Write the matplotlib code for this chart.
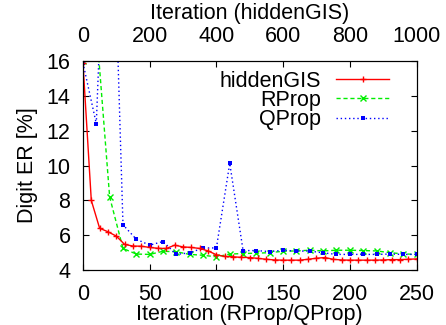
import matplotlib
matplotlib.use("Agg")
import matplotlib.pyplot as plt

plt.rcParams["font.family"] = ["Liberation Sans", "DejaVu Sans"]
plt.rcParams["font.size"] = 15.5

# hiddenGIS: top axis, every 25 iterations
gis_iter = list(range(0, 1001, 25))
gis_err = [15.9, 8.0, 6.4, 6.2, 5.95, 5.47, 5.38, 5.37, 5.3, 5.25, 5.24,
           5.43, 5.33, 5.3, 5.24, 5.1, 4.88, 4.78, 4.76, 4.73, 4.72,
           4.67, 4.62, 4.58, 4.57, 4.57, 4.57, 4.62, 4.68, 4.72, 4.62,
           4.58, 4.57, 4.57, 4.57, 4.57, 4.58, 4.6, 4.6, 4.62, 4.64]

# RProp / QProp: bottom axis, every 10 iterations
prop_iter = list(range(0, 251, 10))
rprop_err = [16.0, 18.0, 8.2, 5.24, 4.92, 4.9, 5.08, 5.05, 4.9, 4.85, 4.76,
             4.92, 4.95, 4.97, 5.0, 5.08, 5.1, 5.14, 5.1, 5.14, 5.14,
             5.12, 5.1, 5.0, 4.93, 4.9]
qprop_err = [15.9, 12.4, 32.0, 6.6, 5.77, 5.43, 5.64, 4.9, 4.99, 5.27, 5.27,
             10.13, 5.12, 5.12, 5.06, 5.14, 5.09, 5.09, 4.99, 4.9, 4.9,
             4.9, 4.9, 4.92, 4.9, 4.9]

fig = plt.figure(figsize=(4.46, 3.25), dpi=100)
ax = fig.add_axes([0.186, 0.169, 0.748, 0.643])
ax2 = ax.twiny()

l_r, = ax.plot(prop_iter, rprop_err, color="#00ee00", lw=1, ls=(0, (3, 2)),
               marker="x", ms=4, mew=1, label="RProp")
l_q, = ax.plot(prop_iter, qprop_err, color="#0000ff", lw=1, ls=(0, (1, 2)),
               marker="s", ms=3.5, mew=0, label="QProp")
l_h, = ax2.plot(gis_iter, gis_err, color="#ff0000", lw=1,
                marker="+", ms=5, mew=1, label="hiddenGIS")

ax.set_xlim(0, 250)
ax.set_ylim(4, 16)
ax2.set_xlim(0, 1000)
ax.set_xticks([0, 50, 100, 150, 200, 250])
ax.set_yticks([4, 6, 8, 10, 12, 14, 16])
ax2.set_xticks([0, 200, 400, 600, 800, 1000])

ax.tick_params(axis="x", direction="in", length=4, pad=10)
ax.tick_params(axis="y", direction="in", length=4, right=True, pad=9)
ax2.tick_params(direction="in", length=4, pad=10)

ax.set_xlabel("Iteration (RProp/QProp)", labelpad=-1)
ax.set_ylabel("Digit ER [%]", labelpad=6)
ax2.set_xlabel("Iteration (hiddenGIS)", labelpad=5)

ax2.legend(handles=[l_h, l_r, l_q], loc="upper right", frameon=False,
           markerfirst=False, numpoints=1, handlelength=2.45,
           handletextpad=0.7, labelspacing=-0.08,
           bbox_to_anchor=(0.943, 0.995), borderaxespad=0)

fig.savefig("out.png", dpi=100)
